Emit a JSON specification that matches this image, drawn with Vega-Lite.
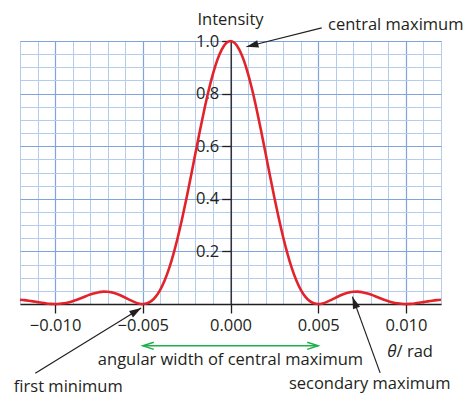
{
  "$schema": "https://vega.github.io/schema/vega-lite/v6.json",
  "width": 421,
  "height": 263,
  "autosize": {"type": "none"},
  "padding": {"left": 20, "top": 41, "right": 23, "bottom": 90},
  "config": {"view": {"stroke": "#86a9de", "strokeWidth": 1}, "font": "Open Sans"},
  "datasets": {
    "curve": [
      {"t": -0.012, "i": 0.0159}, {"t": -0.01175, "i": 0.0146}, {"t": -0.0115, "i": 0.0125}, {"t": -0.01125, "i": 0.0100},
      {"t": -0.011, "i": 0.0072}, {"t": -0.01075, "i": 0.0045}, {"t": -0.0105, "i": 0.0022}, {"t": -0.01025, "i": 0.0006},
      {"t": -0.01, "i": 0}, {"t": -0.00975, "i": 0.0007}, {"t": -0.0095, "i": 0.0027}, {"t": -0.00925, "i": 0.0061},
      {"t": -0.009, "i": 0.0108}, {"t": -0.00875, "i": 0.0165}, {"t": -0.0085, "i": 0.0230}, {"t": -0.00825, "i": 0.0296},
      {"t": -0.008, "i": 0.0358}, {"t": -0.00775, "i": 0.0411}, {"t": -0.0075, "i": 0.0450}, {"t": -0.00725, "i": 0.0470},
      {"t": -0.007, "i": 0.0468}, {"t": -0.00675, "i": 0.0441}, {"t": -0.0065, "i": 0.0392}, {"t": -0.00625, "i": 0.0324},
      {"t": -0.006, "i": 0.0243}, {"t": -0.00575, "i": 0.0158}, {"t": -0.0055, "i": 0.0080}, {"t": -0.00525, "i": 0.0022},
      {"t": -0.005, "i": 0}, {"t": -0.00475, "i": 0.0028}, {"t": -0.0045, "i": 0.0119}, {"t": -0.00425, "i": 0.0289},
      {"t": -0.004, "i": 0.0547}, {"t": -0.00375, "i": 0.0901}, {"t": -0.0035, "i": 0.1353}, {"t": -0.00325, "i": 0.1904},
      {"t": -0.003, "i": 0.2546}, {"t": -0.00275, "i": 0.3268}, {"t": -0.0025, "i": 0.4053}, {"t": -0.00225, "i": 0.4881},
      {"t": -0.002, "i": 0.5728}, {"t": -0.00175, "i": 0.6566}, {"t": -0.0015, "i": 0.7368}, {"t": -0.00125, "i": 0.8106},
      {"t": -0.001, "i": 0.8751}, {"t": -0.00075, "i": 0.9281}, {"t": -0.0005, "i": 0.9675}, {"t": -0.00025, "i": 0.9918},
      {"t": 0, "i": 1},
      {"t": 0.00025, "i": 0.9918}, {"t": 0.0005, "i": 0.9675}, {"t": 0.00075, "i": 0.9281}, {"t": 0.001, "i": 0.8751},
      {"t": 0.00125, "i": 0.8106}, {"t": 0.0015, "i": 0.7368}, {"t": 0.00175, "i": 0.6566}, {"t": 0.002, "i": 0.5728},
      {"t": 0.00225, "i": 0.4881}, {"t": 0.0025, "i": 0.4053}, {"t": 0.00275, "i": 0.3268}, {"t": 0.003, "i": 0.2546},
      {"t": 0.00325, "i": 0.1904}, {"t": 0.0035, "i": 0.1353}, {"t": 0.00375, "i": 0.0901}, {"t": 0.004, "i": 0.0547},
      {"t": 0.00425, "i": 0.0289}, {"t": 0.0045, "i": 0.0119}, {"t": 0.00475, "i": 0.0028}, {"t": 0.005, "i": 0},
      {"t": 0.00525, "i": 0.0022}, {"t": 0.0055, "i": 0.0080}, {"t": 0.00575, "i": 0.0158}, {"t": 0.006, "i": 0.0243},
      {"t": 0.00625, "i": 0.0324}, {"t": 0.0065, "i": 0.0392}, {"t": 0.00675, "i": 0.0441}, {"t": 0.007, "i": 0.0468},
      {"t": 0.00725, "i": 0.0470}, {"t": 0.0075, "i": 0.0450}, {"t": 0.00775, "i": 0.0411}, {"t": 0.008, "i": 0.0358},
      {"t": 0.00825, "i": 0.0296}, {"t": 0.0085, "i": 0.0230}, {"t": 0.00875, "i": 0.0165}, {"t": 0.009, "i": 0.0108},
      {"t": 0.00925, "i": 0.0061}, {"t": 0.0095, "i": 0.0027}, {"t": 0.00975, "i": 0.0007}, {"t": 0.01, "i": 0},
      {"t": 0.01025, "i": 0.0006}, {"t": 0.0105, "i": 0.0022}, {"t": 0.01075, "i": 0.0045}, {"t": 0.011, "i": 0.0072},
      {"t": 0.01125, "i": 0.0100}, {"t": 0.0115, "i": 0.0125}, {"t": 0.01175, "i": 0.0146}, {"t": 0.012, "i": 0.0159}
    ],
    "arrows": [
      {"name": "central", "x": 0.0052, "y": 1.05, "x2": 0.00091, "y2": 0.978},
      {"name": "first", "x": -0.01113, "y": -0.263, "x2": -0.00509, "y2": -0.015},
      {"name": "secondary", "x": 0.00853, "y": -0.262, "x2": 0.00695, "y2": 0.028}
    ],
    "span": [{"x": -0.005, "x2": 0.005, "y": -0.159}],
    "labelsCenter": [
      {"text": "Intensity", "x": 0, "y": 1.079},
      {"text": "angular width of central maximum", "x": 0, "y": -0.213}
    ],
    "labelsLeft": [
      {"text": "central maximum", "x": 0.00556, "y": 1.059},
      {"text": "first minimum", "x": -0.01235, "y": -0.315},
      {"text": "secondary maximum", "x": 0.00333, "y": -0.305},
      {"text": "/ rad", "x": 0.00947, "y": -0.182}
    ],
    "labelsItalic": [
      {"text": "θ", "x": 0.00947, "y": -0.182}
    ]
  },
  "resolve": {"axis": {"x": "independent", "y": "independent"}},
  "layer": [
    {
      "data": {"name": "curve"},
      "mark": {"type": "line", "opacity": 0},
      "encoding": {
        "x": {"field": "t", "type": "quantitative", "scale": {"domain": [-0.012, 0.012], "nice": false, "zero": false},
          "axis": {"orient": "bottom", "values": [-0.012,-0.011,-0.01,-0.009,-0.008,-0.007,-0.006,-0.005,-0.004,-0.003,-0.002,-0.001,0,0.001,0.002,0.003,0.004,0.005,0.006,0.007,0.008,0.009,0.01,0.011,0.012],
            "grid": true, "gridColor": "#b5ccef", "gridWidth": 1, "gridOpacity": 1, "ticks": false, "labels": false, "domain": false, "title": null}},
        "y": {"field": "i", "type": "quantitative", "scale": {"domain": [0, 1], "nice": false},
          "axis": {"orient": "left", "values": [0,0.05,0.1,0.15,0.2,0.25,0.3,0.35,0.4,0.45,0.5,0.55,0.6,0.65,0.7,0.75,0.8,0.85,0.9,0.95,1],
            "grid": true, "gridColor": "#b5ccef", "gridWidth": 1, "gridOpacity": 1, "ticks": false, "labels": false, "domain": false, "title": null}}
      }
    },
    {
      "data": {"name": "curve"},
      "mark": {"type": "line", "opacity": 0},
      "encoding": {
        "x": {"field": "t", "type": "quantitative",
          "axis": {"orient": "bottom", "values": [-0.01,-0.005,0,0.005,0.01],
            "grid": true, "gridColor": "#7fa4dc", "gridWidth": 1.2, "gridOpacity": 1, "ticks": false, "labels": false, "domain": false, "title": null}},
        "y": {"field": "i", "type": "quantitative",
          "axis": {"orient": "left", "values": [0.2,0.4,0.6,0.8,1],
            "grid": true, "gridColor": "#7fa4dc", "gridWidth": 1.2, "gridOpacity": 1, "ticks": false, "labels": false, "domain": false, "title": null}}
      }
    },
    {
      "data": {"name": "curve"},
      "mark": {"type": "line", "color": "#e3232b", "strokeWidth": 2.6, "interpolate": "monotone"},
      "encoding": {
        "x": {"field": "t", "type": "quantitative",
          "axis": {"orient": "bottom", "values": [-0.01,-0.005,0,0.005,0.01], "format": ".3f", "grid": false, "domainColor": "#231f20", "domainWidth": 1.3,
            "tickColor": "#231f20", "tickWidth": 1.3, "tickSize": 9, "labelFontSize": 16.5, "labelFont": "Open Sans", "labelColor": "#231f20",
            "labelPadding": 4, "labelOverlap": false, "labelFlush": false, "labelBound": false, "title": null}},
        "y": {"field": "i", "type": "quantitative",
          "axis": {"orient": "left", "values": [0.2,0.4,0.6,0.8,1], "format": ".1f", "offset": -210.7, "grid": false, "domainColor": "#231f20", "domainWidth": 1.3,
            "tickColor": "#231f20", "tickWidth": 1.3, "tickSize": 9, "labelFontSize": 16.5, "labelFont": "Open Sans", "labelColor": "#231f20",
            "labelPadding": 3, "labelOverlap": false, "labelBound": false, "title": null}}
      }
    },
    {
      "data": {"name": "arrows"},
      "mark": {"type": "rule", "color": "#231f20", "strokeWidth": 1.2},
      "encoding": {
        "x": {"field": "x", "type": "quantitative", "axis": null},
        "y": {"field": "y", "type": "quantitative", "axis": null},
        "x2": {"field": "x2"},
        "y2": {"field": "y2"}
      }
    },
    {
      "data": {"name": "arrows"},
      "transform": [{"filter": "datum.name === 'central'"}],
      "mark": {"type": "point", "shape": "M0,0L-0.5,1.6L0.5,1.6Z", "filled": true, "opacity": 1, "size": 225, "angle": 256, "color": "#231f20"},
      "encoding": {
        "x": {"field": "x2", "type": "quantitative", "axis": null},
        "y": {"field": "y2", "type": "quantitative", "axis": null}
      }
    },
    {
      "data": {"name": "arrows"},
      "transform": [{"filter": "datum.name === 'first'"}],
      "mark": {"type": "point", "shape": "M0,0L-0.5,1.6L0.5,1.6Z", "filled": true, "opacity": 1, "size": 225, "angle": 58, "color": "#231f20"},
      "encoding": {
        "x": {"field": "x2", "type": "quantitative", "axis": null},
        "y": {"field": "y2", "type": "quantitative", "axis": null}
      }
    },
    {
      "data": {"name": "arrows"},
      "transform": [{"filter": "datum.name === 'secondary'"}],
      "mark": {"type": "point", "shape": "M0,0L-0.5,1.6L0.5,1.6Z", "filled": true, "opacity": 1, "size": 225, "angle": 340, "color": "#231f20"},
      "encoding": {
        "x": {"field": "x2", "type": "quantitative", "axis": null},
        "y": {"field": "y2", "type": "quantitative", "axis": null}
      }
    },
    {
      "data": {"name": "span"},
      "mark": {"type": "rule", "color": "#1fb04c", "strokeWidth": 1.5},
      "encoding": {
        "x": {"field": "x", "type": "quantitative", "axis": null},
        "x2": {"field": "x2"},
        "y": {"field": "y", "type": "quantitative", "axis": null}
      }
    },
    {
      "data": {"name": "span"},
      "mark": {"type": "point", "shape": "M2,-0.65L0,0L2,0.65", "filled": false, "opacity": 1, "size": 121, "angle": 0, "color": "#1fb04c", "strokeWidth": 1.5},
      "encoding": {
        "x": {"field": "x", "type": "quantitative", "axis": null},
        "y": {"field": "y", "type": "quantitative", "axis": null}
      }
    },
    {
      "data": {"name": "span"},
      "mark": {"type": "point", "shape": "M2,-0.65L0,0L2,0.65", "filled": false, "opacity": 1, "size": 121, "angle": 180, "color": "#1fb04c", "strokeWidth": 1.5},
      "encoding": {
        "x": {"field": "x2", "type": "quantitative", "axis": null},
        "y": {"field": "y", "type": "quantitative", "axis": null}
      }
    },
    {
      "data": {"name": "labelsCenter"},
      "mark": {"type": "text", "align": "center", "baseline": "middle", "font": "Open Sans", "fontSize": 16.5, "color": "#231f20"},
      "encoding": {
        "x": {"field": "x", "type": "quantitative", "axis": null},
        "y": {"field": "y", "type": "quantitative", "axis": null},
        "text": {"field": "text"}
      }
    },
    {
      "data": {"name": "labelsLeft"},
      "mark": {"type": "text", "align": "left", "baseline": "middle", "font": "Open Sans", "fontSize": 16.5, "color": "#231f20"},
      "encoding": {
        "x": {"field": "x", "type": "quantitative", "axis": null},
        "y": {"field": "y", "type": "quantitative", "axis": null},
        "text": {"field": "text"}
      }
    },
    {
      "data": {"name": "labelsItalic"},
      "mark": {"type": "text", "align": "right", "baseline": "middle", "font": "Open Sans", "fontStyle": "italic", "fontSize": 17, "color": "#231f20"},
      "encoding": {
        "x": {"field": "x", "type": "quantitative", "axis": null},
        "y": {"field": "y", "type": "quantitative", "axis": null},
        "text": {"field": "text"}
      }
    }
  ]
}
